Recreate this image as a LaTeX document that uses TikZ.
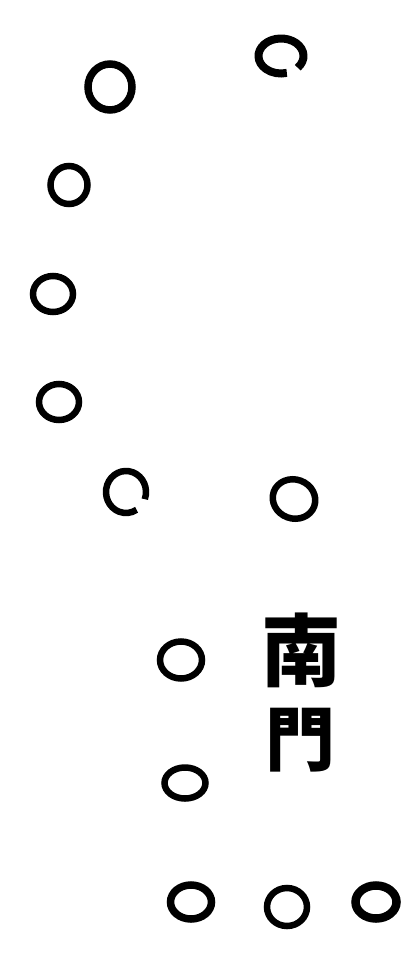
\documentclass[tikz,border=0pt]{standalone}
\usepackage{fontspec}
\newfontfamily\cjk{Noto Sans CJK TC}
\usetikzlibrary{shapes.geometric}
\tikzset{
  ring/.style={draw=black, line width=6.5pt, ellipse, inner sep=0pt},
  gapring/.style={draw=none, ellipse, inner sep=0pt},
  glyph/.style={inner sep=0pt, font=\cjk\bfseries}
}
\begin{document}
\begin{tikzpicture}[x=1pt,y=-1pt]
\useasboundingbox (0,0) rectangle (410,958);
\node[ring, minimum width=44pt, minimum height=46pt, line width=7.5pt] (c1) at (110,87) {};
\node[gapring, minimum width=45pt, minimum height=35pt] (c2) at (281,56) {};
\draw[line width=8pt] (c2.center) ++(-42:22.5pt and 17.5pt) arc[start angle=-42, end angle=285, x radius=22.5pt, y radius=17.5pt];
\node[ring, minimum width=37pt, minimum height=38pt] (c3) at (69,185) {};
\node[ring, minimum width=40pt, minimum height=36pt] (c4) at (53,294) {};
\node[ring, minimum width=40pt, minimum height=36pt] (c5) at (59,402) {};
\node[gapring, minimum width=40pt, minimum height=42pt] (c6) at (126,492) {};
\draw[line width=6.5pt] (c6.center) ++(-20:20pt and 21pt) arc[start angle=-20, end angle=302, x radius=20pt, y radius=21pt];
\node[ring, minimum width=43pt, minimum height=39pt, rotate=-20] (c7) at (294,499) {};
\node[ring, minimum width=42pt, minimum height=37pt] (c8) at (181,660) {};
\node[ring, minimum width=41pt, minimum height=31pt] (c9) at (185,783) {};
\node[ring, minimum width=41pt, minimum height=34pt, line width=7.5pt] (c10) at (191,902) {};
\node[ring, minimum width=40pt, minimum height=38pt] (c11) at (287,907) {};
\node[ring, minimum width=41pt, minimum height=33pt, line width=8.5pt] (c12) at (376,902) {};
\node[glyph, font=\cjk\bfseries\fontsize{80pt}{80pt}\selectfont] (nan) at (301,650) {南};
\node[glyph, font=\cjk\bfseries\fontsize{70pt}{70pt}\selectfont] (men) at (300,740) {門};
\end{tikzpicture}
\end{document}
